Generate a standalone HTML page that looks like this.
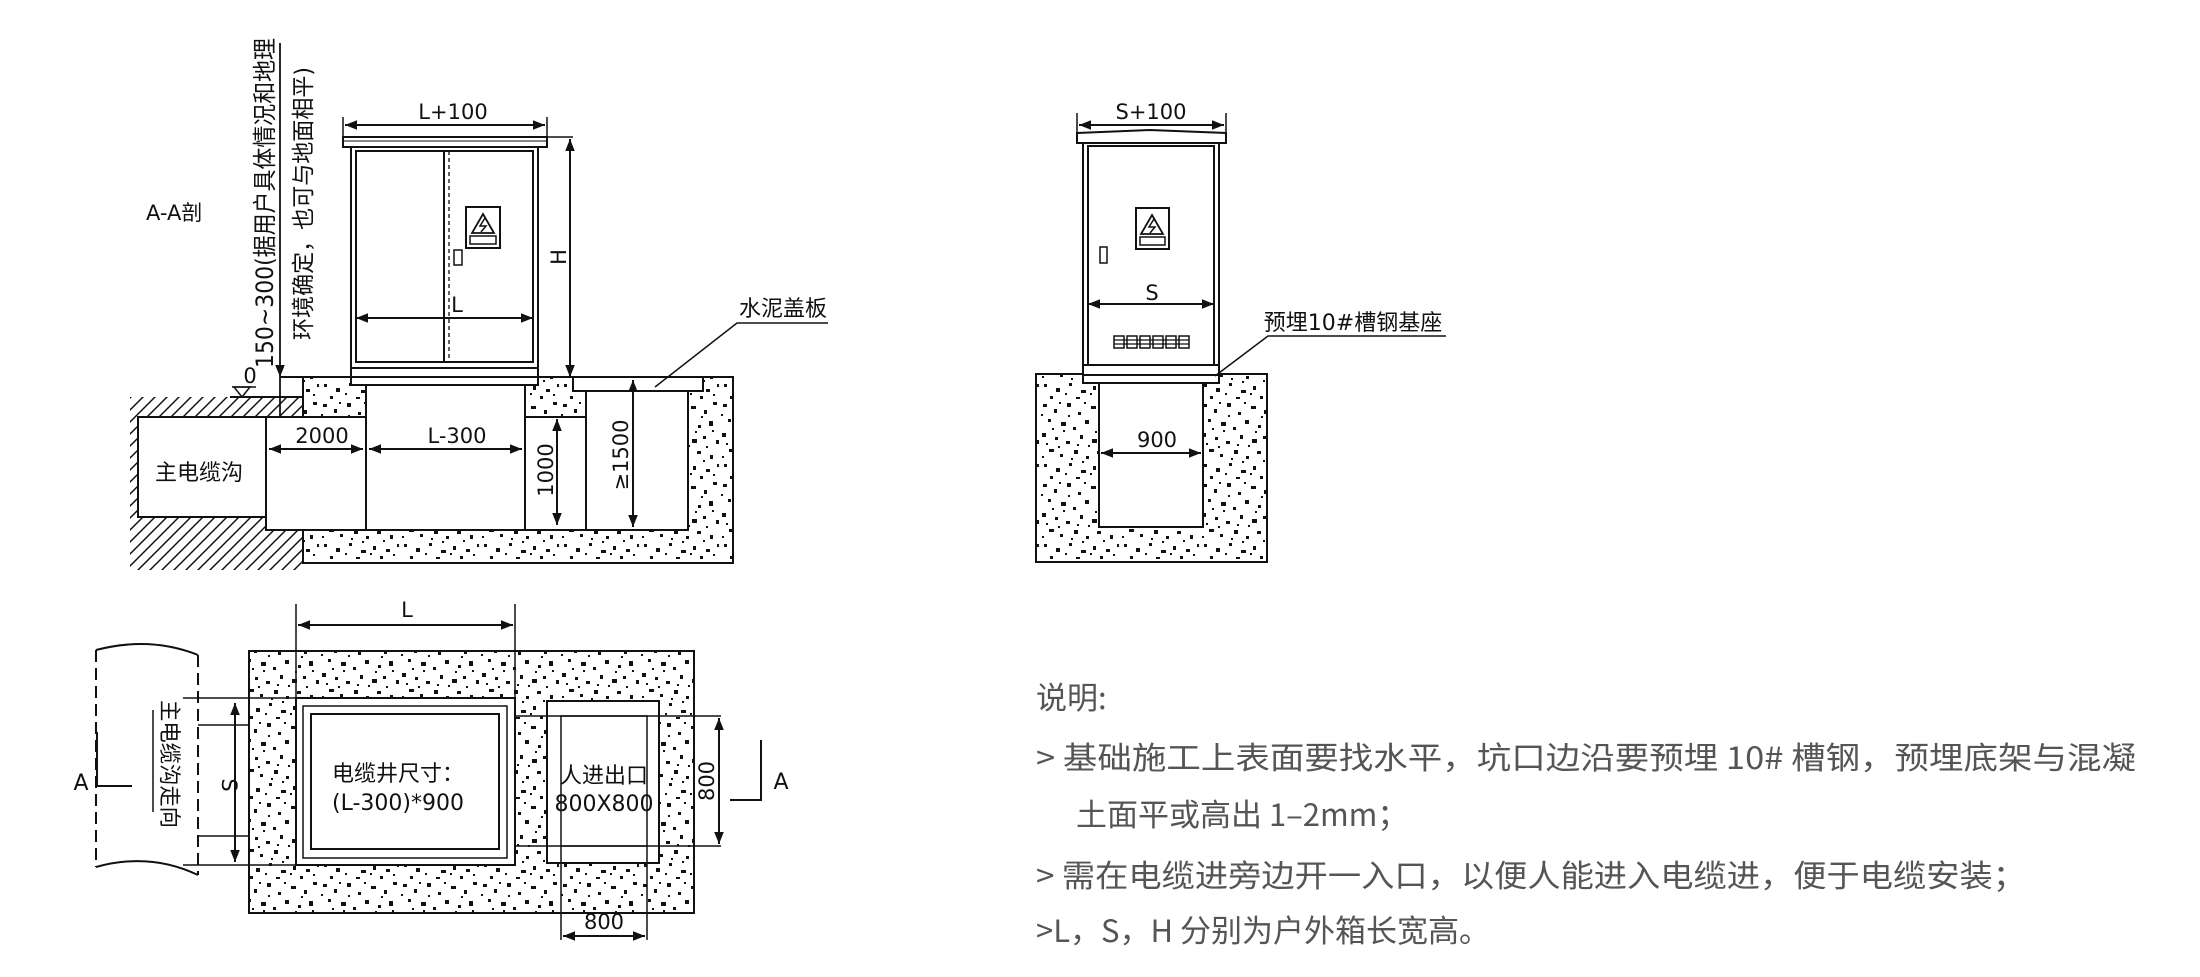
<!DOCTYPE html>
<html><head><meta charset="utf-8"><style>
html,body{margin:0;padding:0;background:#fff;}
svg{display:block;}
text{font-family:"DejaVu Sans","Noto Sans CJK SC",sans-serif;fill:#111;}
.d{font-size:21px;}
.n{font-family:"Noto Sans CJK SC","Liberation Sans",sans-serif;fill:#555;font-size:31px;}
</style></head><body>
<svg width="2200" height="977" viewBox="0 0 2200 977" xmlns="http://www.w3.org/2000/svg">
<defs>
<pattern id="sp" width="80" height="80" patternUnits="userSpaceOnUse">
<rect width="80" height="80" fill="#fff"/>
<g fill="#111">
<rect x="3" y="4" width="4" height="3"/><rect x="14" y="9" width="3" height="4"/><rect x="27" y="3" width="4" height="4"/>
<rect x="38" y="12" width="3" height="3"/><rect x="51" y="6" width="5" height="3"/><rect x="64" y="10" width="3" height="4"/>
<rect x="73" y="2" width="4" height="3"/><rect x="8" y="19" width="3" height="3"/><rect x="21" y="22" width="5" height="4"/>
<rect x="33" y="27" width="3" height="3"/><rect x="45" y="20" width="4" height="4"/><rect x="58" y="25" width="3" height="3"/>
<rect x="69" y="21" width="4" height="5"/><rect x="2" y="33" width="4" height="4"/><rect x="15" y="37" width="3" height="3"/>
<rect x="26" y="41" width="4" height="3"/><rect x="40" y="35" width="3" height="4"/><rect x="52" y="39" width="5" height="4"/>
<rect x="63" y="36" width="3" height="3"/><rect x="76" y="40" width="3" height="4"/><rect x="9" y="49" width="5" height="3"/>
<rect x="20" y="54" width="3" height="3"/><rect x="34" y="50" width="4" height="4"/><rect x="46" y="56" width="3" height="3"/>
<rect x="57" y="51" width="4" height="3"/><rect x="70" y="55" width="3" height="4"/><rect x="4" y="64" width="3" height="3"/>
<rect x="16" y="68" width="4" height="4"/><rect x="29" y="63" width="3" height="3"/><rect x="41" y="70" width="5" height="3"/>
<rect x="53" y="66" width="3" height="4"/><rect x="66" y="69" width="4" height="3"/><rect x="77" y="64" width="2" height="3"/>
<rect x="10" y="76" width="3" height="3"/><rect x="36" y="77" width="4" height="2"/><rect x="60" y="76" width="3" height="3"/>
<rect x="23" y="30" width="2" height="2"/><rect x="48" y="45" width="2" height="2"/><rect x="72" y="30" width="2" height="2"/>
<rect x="31" y="58" width="2" height="2"/><rect x="6" y="43" width="2" height="2"/><rect x="61" y="16" width="2" height="2"/>
<rect x="19" y="2" width="2" height="2"/><rect x="44" y="2" width="2" height="2"/><rect x="1" y="14" width="2" height="2"/>
<rect x="28" y="15" width="2" height="2"/><rect x="55" y="31" width="2" height="2"/><rect x="12" y="28" width="2" height="2"/>
<rect x="37" y="44" width="2" height="2"/><rect x="66" y="46" width="2" height="2"/><rect x="25" y="73" width="2" height="2"/>
<rect x="50" y="73" width="2" height="2"/><rect x="73" y="74" width="2" height="2"/><rect x="2" y="56" width="2" height="2"/>
<rect x="42" y="61" width="2" height="2"/><rect x="63" y="60" width="2" height="2"/><rect x="18" y="46" width="2" height="2"/>
</g>
</pattern>
<pattern id="ht" width="12" height="12" patternUnits="userSpaceOnUse">
<rect width="12" height="12" fill="#fff"/>
<path d="M-3 15 L15 -3 M-3 3 L3 -3 M9 15 L15 9" stroke="#111" stroke-width="1.5"/>
</pattern>
<marker id="a" viewBox="0 0 10 10" refX="10" refY="5" markerWidth="12" markerHeight="12" markerUnits="userSpaceOnUse" orient="auto-start-reverse">
<path d="M0 1 L10 5 L0 9 Z" fill="#111"/>
</marker>
</defs>

<g stroke="#111" stroke-width="2" fill="none">
<rect x="130" y="397" width="173" height="173" fill="url(#ht)" stroke="none"/>
<rect x="303" y="377" width="430" height="186" fill="url(#sp)"/>
<rect x="138" y="417" width="128" height="100" fill="#fff"/>
<rect x="266" y="417" width="100" height="113" fill="#fff"/>
<rect x="366" y="385" width="159" height="145" fill="#fff"/>
<rect x="525" y="417" width="61" height="113" fill="#fff"/>
<rect x="586" y="391" width="102" height="139" fill="#fff"/>
<rect x="573" y="377" width="130" height="14" fill="#fff"/>
<line x1="230" y1="397" x2="303" y2="397"/>
<line x1="280" y1="377" x2="351" y2="377"/>
<path d="M234 387 L250 387 L242 397 Z" stroke-width="1.5"/>
<line x1="232" y1="387" x2="256" y2="387" stroke-width="1.5"/>
<line x1="280" y1="43" x2="280" y2="377" stroke-width="1.8" marker-end="url(#a)"/>
<line x1="280" y1="377" x2="280" y2="417" stroke-width="1.8"/>

<rect x="343" y="137" width="204" height="10" fill="#fff"/>
<line x1="343" y1="141" x2="547" y2="141" stroke-width="1"/>
<rect x="351" y="147" width="187" height="230" fill="#fff"/>
<rect x="356" y="151" width="177" height="211"/>
<line x1="351" y1="368" x2="538" y2="368"/>
<rect x="351" y="377" width="187" height="8" fill="#fff"/>
<line x1="444" y1="151" x2="444" y2="362"/>
<line x1="449" y1="151" x2="449" y2="362" stroke-dasharray="4 3" stroke-width="1.3"/>
<line x1="356" y1="318" x2="533" y2="318" marker-start="url(#a)" marker-end="url(#a)"/>
<rect x="466" y="207" width="34" height="41" stroke-width="2"/>
<path d="M483 214 L494 233 L472 233 Z" stroke-width="1.8"/>
<path d="M485 218 L480 226 L486 226 L481 232" stroke-width="1.5"/>
<rect x="470" y="236" width="26" height="8" stroke-width="1.5"/>
<rect x="454" y="250" width="8" height="15" stroke-width="1.5"/>
<line x1="343" y1="117" x2="343" y2="137" stroke-width="1.5"/>
<line x1="547" y1="117" x2="547" y2="137" stroke-width="1.5"/>
<line x1="345" y1="125" x2="545" y2="125" marker-start="url(#a)" marker-end="url(#a)"/>
<line x1="547" y1="137" x2="573" y2="137" stroke-width="1.5"/>
<line x1="570" y1="139" x2="570" y2="377" marker-start="url(#a)" marker-end="url(#a)"/>

<line x1="269" y1="449" x2="363" y2="449" marker-start="url(#a)" marker-end="url(#a)"/>
<line x1="369" y1="449" x2="522" y2="449" marker-start="url(#a)" marker-end="url(#a)"/>
<line x1="557" y1="419" x2="557" y2="525" marker-start="url(#a)" marker-end="url(#a)"/>
<line x1="633" y1="380" x2="633" y2="527" marker-start="url(#a)" marker-end="url(#a)"/>
<path d="M655 387 L737 323 L828 323" stroke-width="1.5"/>

<rect x="1036" y="374" width="231" height="188" fill="url(#sp)"/>
<rect x="1099" y="383" width="104" height="144" fill="#fff"/>
<path d="M1077 133 L1150 130 L1226 133 L1226 143 L1077 143 Z" fill="#fff"/>
<rect x="1083" y="143" width="136" height="222" fill="#fff"/>
<rect x="1088" y="146" width="126" height="219"/>
<rect x="1083" y="365" width="136" height="10" fill="#fff"/>
<rect x="1083" y="375" width="136" height="8" fill="#fff"/>
<line x1="1077" y1="113" x2="1077" y2="133" stroke-width="1.5"/>
<line x1="1226" y1="113" x2="1226" y2="133" stroke-width="1.5"/>
<line x1="1079" y1="125" x2="1224" y2="125" marker-start="url(#a)" marker-end="url(#a)"/>
<line x1="1088" y1="304" x2="1214" y2="304" marker-start="url(#a)" marker-end="url(#a)"/>
<rect x="1136" y="208" width="33" height="41"/>
<path d="M1152 215 L1163 234 L1141 234 Z" stroke-width="1.8"/>
<path d="M1154 219 L1149 227 L1155 227 L1150 233" stroke-width="1.5"/>
<rect x="1140" y="237" width="25" height="8" stroke-width="1.5"/>
<rect x="1100" y="247" width="7" height="16" stroke-width="1.5"/>
<g stroke-width="1.5">
<rect x="1114" y="336" width="10" height="12"/><rect x="1127" y="336" width="10" height="12"/><rect x="1140" y="336" width="10" height="12"/>
<rect x="1153" y="336" width="10" height="12"/><rect x="1166" y="336" width="10" height="12"/><rect x="1179" y="336" width="10" height="12"/>
<path d="M1114 340h75M1114 344h75" stroke-width="1.2"/>
</g>
<line x1="1101" y1="453" x2="1201" y2="453" marker-start="url(#a)" marker-end="url(#a)"/>
<path d="M1215 376 L1268 336 L1446 336" stroke-width="1.5"/>

<rect x="249" y="651" width="445" height="262" fill="url(#sp)"/>
<path d="M96 650 Q150 636 198 655" />
<path d="M96 867 Q150 852 198 875" />
<line x1="96" y1="650" x2="96" y2="867" stroke-dasharray="12 6"/>
<line x1="198" y1="655" x2="198" y2="875" stroke-dasharray="12 6"/>
<line x1="183" y1="698" x2="296" y2="698" stroke-width="1.5"/>
<line x1="183" y1="865" x2="296" y2="865" stroke-width="1.5"/>
<line x1="198" y1="725" x2="249" y2="725" stroke-width="1.5"/>
<line x1="198" y1="836" x2="249" y2="836" stroke-width="1.5"/>
<line x1="235" y1="703" x2="235" y2="862" marker-start="url(#a)" marker-end="url(#a)"/>
<line x1="153" y1="710" x2="153" y2="812" stroke-width="1.5"/>
<path d="M97 732 L97 786 L132 786"/>
<rect x="296" y="698" width="219" height="167" fill="#fff"/>
<rect x="303" y="706" width="204" height="152" stroke-width="1.5"/>
<rect x="311" y="714" width="188" height="135"/>
<line x1="296" y1="604" x2="296" y2="698" stroke-width="1.5"/>
<line x1="515" y1="604" x2="515" y2="698" stroke-width="1.5"/>
<line x1="298" y1="625" x2="513" y2="625" marker-start="url(#a)" marker-end="url(#a)"/>
<rect x="547" y="701" width="112" height="162" fill="#fff"/>
<rect x="561" y="716" width="86" height="130" stroke-width="1.5"/>
<line x1="515" y1="716" x2="721" y2="716" stroke-width="1.5"/>
<line x1="515" y1="846" x2="721" y2="846" stroke-width="1.5"/>
<line x1="561" y1="846" x2="561" y2="940" stroke-width="1.5"/>
<line x1="647" y1="846" x2="647" y2="940" stroke-width="1.5"/>
<line x1="719" y1="718" x2="719" y2="844" marker-start="url(#a)" marker-end="url(#a)"/>
<line x1="563" y1="936" x2="645" y2="936" marker-start="url(#a)" marker-end="url(#a)"/>
<path d="M730 800 L761 800 L761 740"/>
</g>

<text x="146" y="220" font-size="21">A-A剖</text>
<text transform="translate(273,368) rotate(-90)" font-size="24" textLength="330" lengthAdjust="spacingAndGlyphs">150~300(据用户具体情况和地理</text>
<text transform="translate(311,340) rotate(-90)" font-size="23" textLength="273" lengthAdjust="spacingAndGlyphs">环境确定，也可与地面相平)</text>
<text x="250" y="383" class="d" text-anchor="middle">0</text>
<text x="453" y="119" class="d" text-anchor="middle">L+100</text>
<text x="457" y="312" class="d" text-anchor="middle">L</text>
<text transform="translate(566,257) rotate(-90)" class="d" text-anchor="middle">H</text>
<text x="199" y="480" font-size="22" text-anchor="middle">主电缆沟</text>
<text x="322" y="443" class="d" text-anchor="middle">2000</text>
<text x="457" y="443" class="d" text-anchor="middle">L-300</text>
<text transform="translate(553,470) rotate(-90)" class="d" text-anchor="middle">1000</text>
<text transform="translate(628,455) rotate(-90)" class="d" text-anchor="middle">≥1500</text>
<text x="783" y="316" font-size="22" text-anchor="middle">水泥盖板</text>

<text x="1151" y="119" class="d" text-anchor="middle">S+100</text>
<text x="1152" y="300" class="d" text-anchor="middle">S</text>
<text x="1157" y="447" class="d" text-anchor="middle">900</text>
<text x="1353" y="330" font-size="22" text-anchor="middle">预埋10#槽钢基座</text>

<text x="407" y="617" class="d" text-anchor="middle">L</text>
<text transform="translate(222,785) rotate(90)" class="d" text-anchor="middle">S</text>
<text transform="translate(162,700) rotate(90)" font-size="22" textLength="128" lengthAdjust="spacingAndGlyphs">主电缆沟走向</text>
<text x="81" y="790" font-size="22" text-anchor="middle">A</text>
<text x="398" y="781" font-size="22" text-anchor="middle">电缆井尺寸：</text>
<text x="398" y="810" font-size="22" text-anchor="middle">(L-300)*900</text>
<text x="604" y="783" font-size="22" text-anchor="middle">人进出口</text>
<text x="604" y="811" font-size="22" text-anchor="middle">800X800</text>
<text transform="translate(714,781) rotate(-90)" class="d" text-anchor="middle">800</text>
<text x="604" y="929" class="d" text-anchor="middle">800</text>
<text x="781" y="789" font-size="22" text-anchor="middle">A</text>

<text x="1036" y="709" class="n">说明:</text>
<text x="1036" y="769" class="n" textLength="1100" lengthAdjust="spacingAndGlyphs">&gt; 基础施工上表面要找水平，坑口边沿要预埋 10# 槽钢，预埋底架与混凝</text>
<text x="1076" y="826" class="n">土面平或高出 1–2mm；</text>
<text x="1036" y="887" class="n" textLength="990" lengthAdjust="spacingAndGlyphs">&gt; 需在电缆进旁边开一入口，以便人能进入电缆进，便于电缆安装；</text>
<text x="1036" y="942" class="n">&gt;L，S，H 分别为户外箱长宽高。</text>
</svg>
</body></html>
